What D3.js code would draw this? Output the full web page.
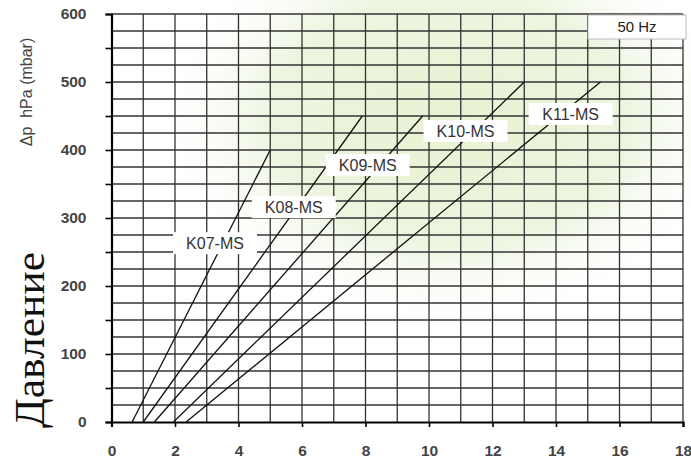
<!DOCTYPE html>
<html>
<head>
<meta charset="utf-8">
<script src="https://cdn.jsdelivr.net/npm/d3@7"></script>
<style>
  body { margin: 0; background: #fff; }
  svg { display: block; }
</style>
</head>
<body>
<div id="chart"></div>
<script>
//Data
const models = ["K07-MS", "K08-MS", "K09-MS", "K10-MS", "K11-MS"];
const startFlow = [0.65, 1.0, 1.35, 1.95, 2.35];
const endFlow = [5, 7.9, 9.8, 13, 15.4];
const endPressure = [400, 450, 450, 500, 500];
const labelFlow = [3.26, 5.74, 8.07, 11.15, 14.46];
const labelPressure = [263, 316, 378, 428, 453];
const xTicks = [0, 2, 4, 6, 8, 10, 12, 14, 16, 18];
const yTicks = [0, 50, 100, 150, 200, 250, 300, 350, 400, 450, 500, 550, 600];

const width = 691, height = 461;
const x = d3.scaleLinear().domain([0, 18]).range([111.5, 683]);
const y = d3.scaleLinear().domain([0, 600]).range([422, 14]);

let svg = d3.select("#chart").append("svg")
	.attr("width", width)
	.attr("height", height);

//soft green watermark behind the grid
let grad = svg.append("defs").append("radialGradient")
	.attr("id", "glow")
	.attr("gradientUnits", "userSpaceOnUse")
	.attr("cx", 450).attr("cy", 120).attr("r", 260)
	.attr("gradientTransform", "translate(450,120) scale(1.15,0.8) translate(-450,-120)");
grad.append("stop").attr("offset", "0").attr("stop-color", "#e8f2d2");
grad.append("stop").attr("offset", "0.6").attr("stop-color", "#edf5e0");
grad.append("stop").attr("offset", "1").attr("stop-color", "#ffffff").attr("stop-opacity", 0);
svg.append("rect")
	.attr("x", 0).attr("y", 0).attr("width", width).attr("height", height)
	.attr("fill", "url(#glow)");

//grid
let grid = svg.append("g").attr("stroke", "#333").attr("stroke-width", 1.3);
grid.selectAll("line.v")
	.data(d3.range(1, 19))
	.enter().append("line")
	.attr("class", "v")
	.attr("x1", d => x(d)).attr("x2", d => x(d))
	.attr("y1", y(0)).attr("y2", y(600));
grid.selectAll("line.h")
	.data(d3.range(25, 601, 25))
	.enter().append("line")
	.attr("class", "h")
	.attr("x1", x(0)).attr("x2", x(18))
	.attr("y1", d => y(d)).attr("y2", d => y(d));

//axes
let yAxis = svg.append("g")
	.attr("transform", "translate(" + x(0) + ",0)")
	.call(d3.axisLeft(y).tickValues(yTicks).tickSize(6).tickPadding(19)
		.tickFormat(d => d % 100 === 0 ? d : ""));
let xAxis = svg.append("g")
	.attr("transform", "translate(0," + y(0) + ")")
	.call(d3.axisBottom(x).tickValues(xTicks).tickSize(5).tickPadding(18));
[xAxis, yAxis].forEach(function(a) {
	a.select(".domain").attr("stroke", "#000").attr("stroke-width", 2.2);
	a.selectAll(".tick line").attr("stroke", "#000").attr("stroke-width", 1.6);
	a.selectAll(".tick text")
		.attr("fill", "#444")
		.style("font-family", "Liberation Sans, Arial, sans-serif")
		.style("font-size", "15.5px")
		.style("font-weight", "bold");
});

//pump curves
let series = models.map((m, i) => ({
	name: m,
	pts: [[startFlow[i], 0], [endFlow[i], endPressure[i]]],
	lx: labelFlow[i],
	ly: labelPressure[i]
}));
let line = d3.line().x(d => x(d[0])).y(d => y(d[1]));
svg.append("g").selectAll("path")
	.data(series)
	.enter().append("path")
	.attr("d", d => line(d.pts))
	.attr("fill", "none")
	.attr("stroke", "#111")
	.attr("stroke-width", 1.3);

//labels on white boxes
let labels = svg.append("g").selectAll("g")
	.data(series)
	.enter().append("g")
	.attr("transform", d => "translate(" + x(d.lx) + "," + y(d.ly) + ")");
labels.append("rect")
	.attr("x", -42).attr("y", -11).attr("width", 84).attr("height", 22)
	.attr("fill", "#fff");
labels.append("text")
	.attr("text-anchor", "middle")
	.attr("dy", "0.36em")
	.attr("fill", "#333")
	.style("font-family", "Liberation Sans, Arial, sans-serif")
	.style("font-size", "16px")
	.text(d => d.name);

//frequency box
svg.append("rect")
	.attr("x", 588).attr("y", 15).attr("width", 98).attr("height", 24)
	.attr("fill", "#fff").attr("stroke", "#bbb").attr("stroke-width", 1);
svg.append("text")
	.attr("x", 637).attr("y", 27).attr("dy", "0.36em")
	.attr("text-anchor", "middle")
	.attr("fill", "#222")
	.style("font-family", "Liberation Sans, Arial, sans-serif")
	.style("font-size", "15px")
	.text("50 Hz");

//axis titles
svg.append("text")
	.attr("transform", "translate(32,92) rotate(-90)")
	.attr("text-anchor", "middle")
	.attr("fill", "#444")
	.style("font-family", "Liberation Sans, Arial, sans-serif")
	.style("font-size", "16px")
	.text("\u0394p\u00a0\u00a0hPa (mbar)");
svg.append("text")
	.attr("transform", "translate(44,340) rotate(-90)")
	.attr("text-anchor", "middle")
	.attr("fill", "#111")
	.attr("textLength", 176)
	.attr("lengthAdjust", "spacingAndGlyphs")
	.style("font-family", "Liberation Serif, Times New Roman, serif")
	.style("font-size", "42px")
	.text("Давление");
</script>
</body>
</html>
